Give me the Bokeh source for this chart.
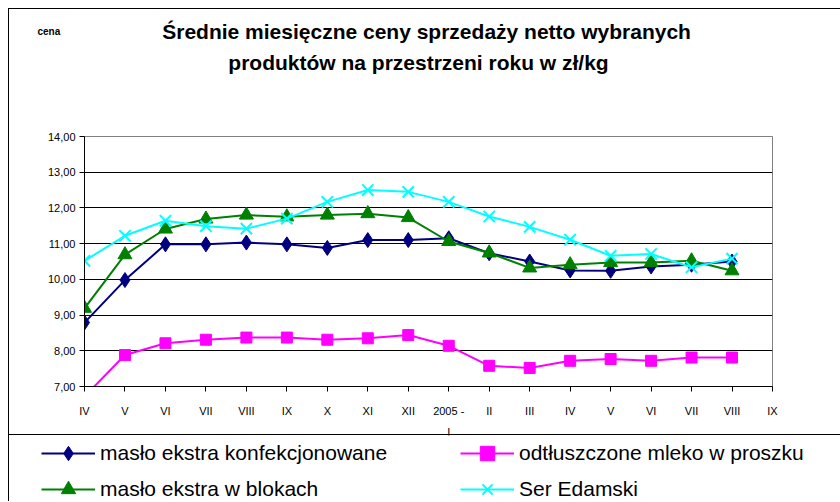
from bokeh.plotting import figure
from bokeh.layouts import column
from bokeh.models import FixedTicker, Legend, LegendItem, Label, Range1d
from bokeh.embed import file_html
from bokeh.resources import INLINE

# ---- data ----
months = ["IV", "V", "VI", "VII", "VIII", "IX", "X", "XI", "XII", "2005 -\nI",
          "II", "III", "IV", "V", "VI", "VII", "VIII", "IX"]
maslo_konf = [8.79, 9.98, 10.98, 10.98, 11.03, 10.98, 10.88, 11.10, 11.10, 11.15,
              10.73, 10.50, 10.25, 10.24, 10.36, 10.41, 10.50]
mleko = [6.72, 7.88, 8.21, 8.31, 8.37, 8.37, 8.31, 8.35, 8.44, 8.14,
         7.58, 7.52, 7.72, 7.77, 7.72, 7.81, 7.81]
maslo_blok = [9.19, 10.69, 11.41, 11.69, 11.80, 11.75, 11.80, 11.84, 11.73, 11.06,
              10.74, 10.32, 10.41, 10.47, 10.47, 10.52, 10.24]
ser = [10.52, 11.22, 11.64, 11.49, 11.42, 11.70, 12.17, 12.50, 12.45, 12.17,
       11.76, 11.47, 11.11, 10.66, 10.71, 10.34, 10.58]
y_ticks = [7, 8, 9, 10, 11, 12, 13, 14]
y_tick_labels = ["7,00", "8,00", "9,00", "10,00", "11,00", "12,00", "13,00", "14,00"]
series_names = ["masło ekstra konfekcjonowane", "odtłuszczone mleko w proszku",
                "masło ekstra w blokach", "Ser Edamski"]
title_line1 = "Średnie miesięczne ceny sprzedaży netto  wybranych"
title_line2 = "produktów na przestrzeni roku w zł/kg"
y_label = "cena"

FONT = "Liberation Sans"
W = 831
xs = list(range(len(maslo_konf)))
styles_series = [
    (maslo_konf, "#000080", "diamond", 15),
    (mleko, "#FF00FF", "square", 11),
    (maslo_blok, "#008000", "triangle", 14),
    (ser, "#00FFFF", "x", 16),
]

# ---------- header with the titles ----------
head = figure(width=W, height=117, output_backend="svg", toolbar_location=None,
              x_axis_type=None, y_axis_type=None, x_range=Range1d(0, 1), y_range=Range1d(0, 1),
              min_border=0, title=None, outline_line_color=None, frame_align=False)
head.grid.visible = False
head.add_layout(Label(x=420, y=95, x_units="screen", y_units="screen", text=title_line1,
                      text_align="center", text_baseline="alphabetic", text_font=FONT,
                      text_font_size="21px", text_font_style="bold", text_color="black"))
head.add_layout(Label(x=409, y=64, x_units="screen", y_units="screen", text=title_line2,
                      text_align="center", text_baseline="alphabetic", text_font=FONT,
                      text_font_size="21px", text_font_style="bold", text_color="black"))
head.add_layout(Label(x=28, y=95, x_units="screen", y_units="screen", text=y_label,
                      text_align="left", text_baseline="alphabetic", text_font=FONT,
                      text_font_size="10px", text_font_style="bold", text_color="black"))

# ---------- main chart ----------
p = figure(width=W, height=318, output_backend="svg", toolbar_location=None,
           x_range=Range1d(0, len(months) - 1), y_range=Range1d(y_ticks[0], y_ticks[-1]),
           min_border_left=75, min_border_right=68, min_border_top=10, min_border_bottom=58,
           background_fill_color="white", border_fill_color="white", title=None,
           frame_align=False)
p.outline_line_color = "#808080"
p.outline_line_width = 1

p.xaxis.ticker = FixedTicker(ticks=list(range(len(months))))
p.xaxis.major_label_overrides = {i: m for i, m in enumerate(months)}
p.xaxis.major_tick_out = 5
p.xaxis.major_tick_in = 0
p.xaxis.minor_tick_out = 0
p.xaxis.minor_tick_in = 0
p.xaxis.axis_line_color = "black"
p.xaxis.major_tick_line_color = "black"
p.xaxis.major_label_text_font = FONT
p.xaxis.major_label_text_font_size = "11px"
p.xaxis.major_label_text_color = "black"
p.xaxis.major_label_standoff = 13
p.xaxis.major_label_text_line_height = 1.8

p.yaxis.ticker = FixedTicker(ticks=y_ticks)
p.yaxis.major_label_overrides = {t: l for t, l in zip(y_ticks, y_tick_labels)}
p.yaxis.major_tick_out = 5
p.yaxis.major_tick_in = 0
p.yaxis.minor_tick_out = 0
p.yaxis.minor_tick_in = 0
p.yaxis.axis_line_color = "black"
p.yaxis.major_tick_line_color = "black"
p.yaxis.major_label_text_font = FONT
p.yaxis.major_label_text_font_size = "11px"
p.yaxis.major_label_text_color = "black"
p.yaxis.major_label_standoff = 4

p.xgrid.grid_line_color = None
p.ygrid.grid_line_color = "black"
p.ygrid.grid_line_width = 1


def draw(fig, vals, color, marker, size):
    ln = fig.line(xs, vals, line_color=color, line_width=2)
    if marker == "x":
        mk = fig.scatter(xs, vals, marker=marker, size=size, line_color=color, line_width=2)
    else:
        mk = fig.scatter(xs, vals, marker=marker, size=size, fill_color=color, line_color=color)
    return [ln, mk]


for vals, color, marker, size in styles_series:
    draw(p, vals, color, marker, size)

# ---------- legend strip ----------
leg = figure(width=W, height=67, output_backend="svg", toolbar_location=None,
             x_axis_type=None, y_axis_type=None, x_range=Range1d(1000, 1001),
             y_range=Range1d(1000, 1001), min_border=0, title=None, outline_line_color=None,
             frame_align=False,
             styles={"border-top": "1px solid black", "margin-top": "-10px"})
leg.grid.visible = False
items = []
for name, (vals, color, marker, size) in zip(series_names, styles_series):
    items.append(LegendItem(label=name, renderers=draw(leg, vals, color, marker, size)))
legend = Legend(items=items, orientation="horizontal", ncols=2, location=(32, -5),
                margin=0, padding=0, spacing=0,
                glyph_width=54, glyph_height=36, label_height=36, label_width=360, label_standoff=5,
                label_text_font=FONT, label_text_font_size="21px", label_text_color="black",
                border_line_color=None, background_fill_alpha=0)
leg.add_layout(legend)

layout = column(head, p, leg, spacing=0, margin=(8, 0, 0, 8),
                styles={"border-left": "1px solid black", "border-top": "1px solid black"})

open("out.html", "w").write(file_html(layout, INLINE))
